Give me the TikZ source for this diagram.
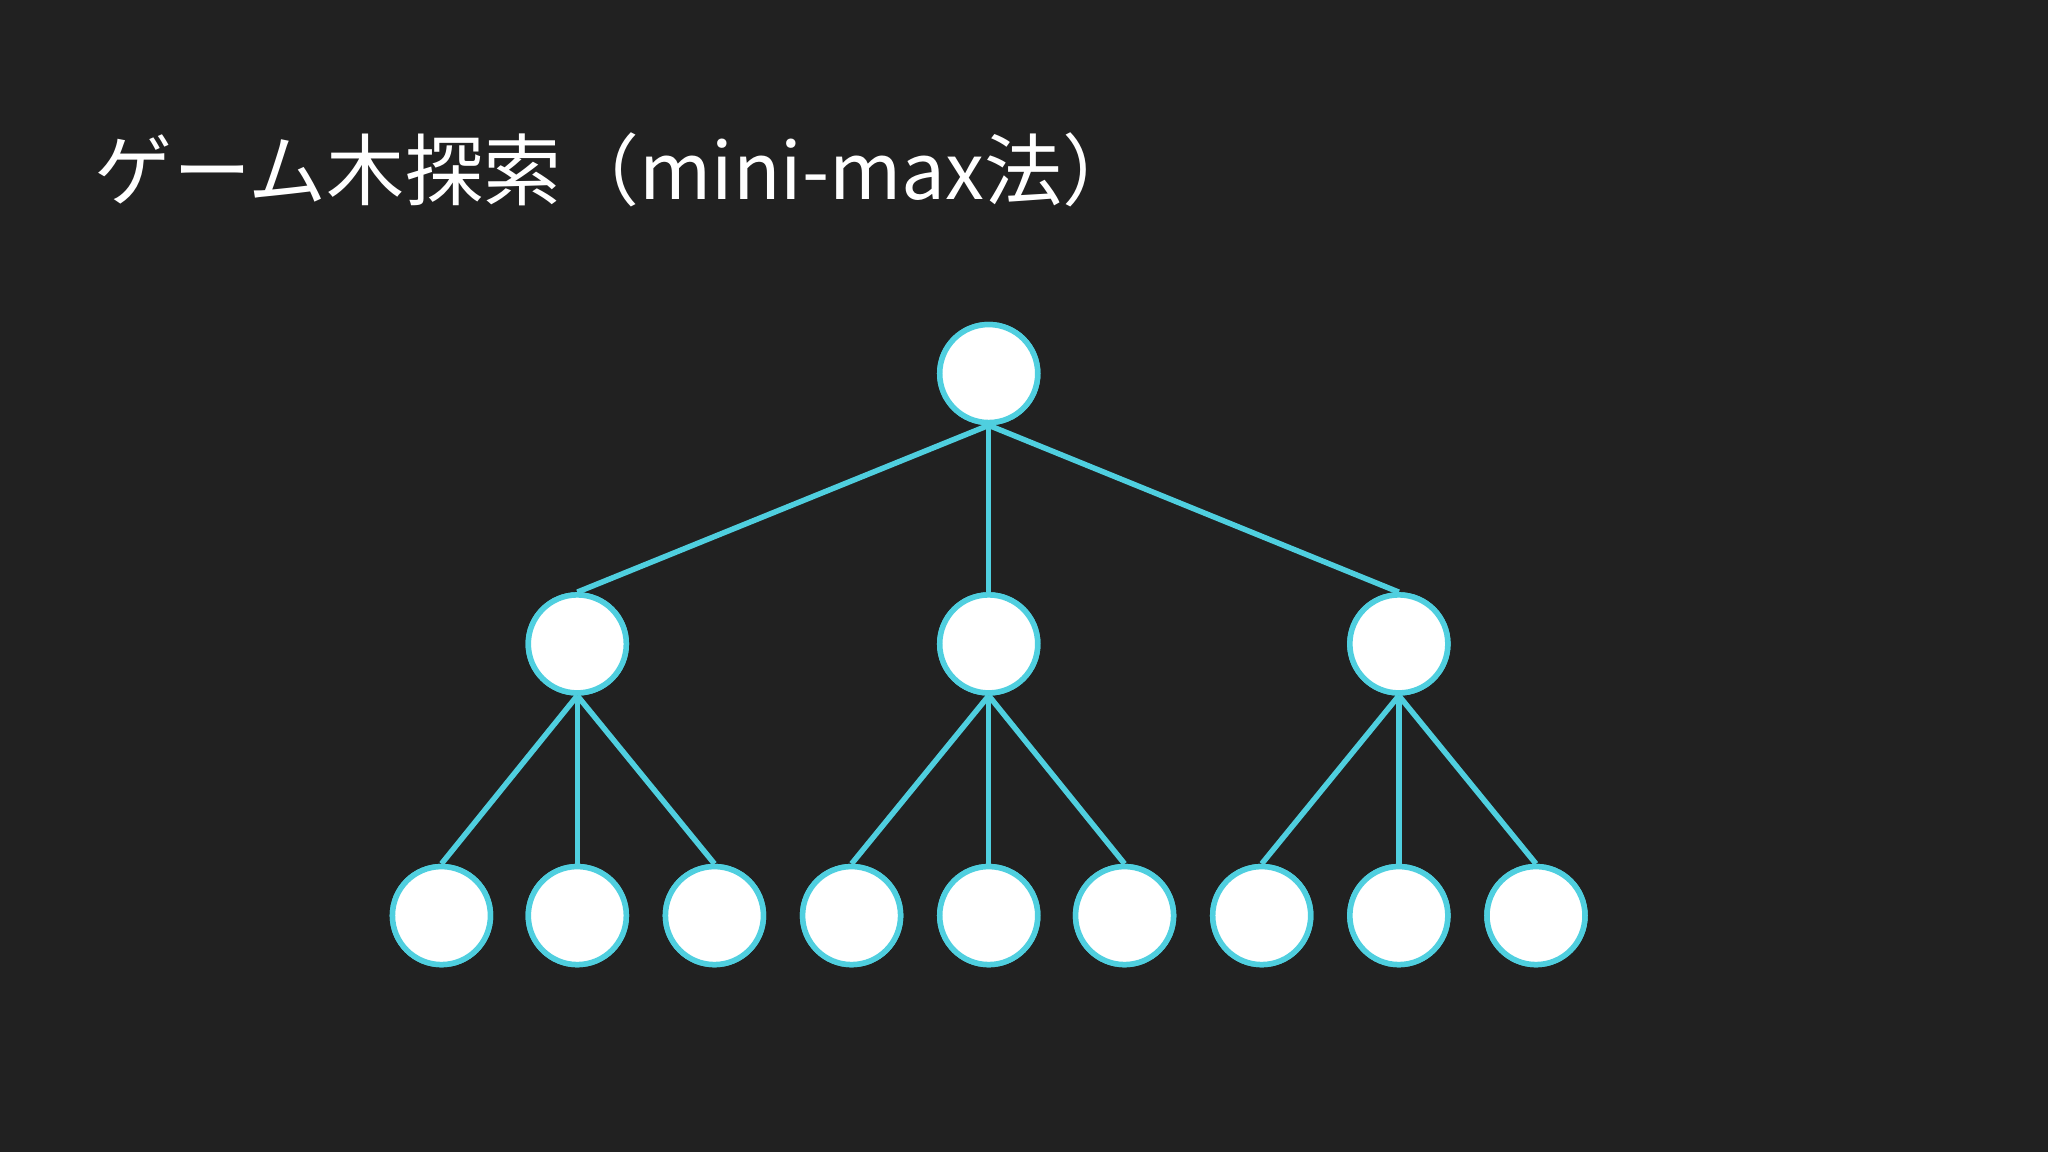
\documentclass[tikz,border=0pt]{standalone}
\usepackage{fontspec}
\newfontfamily\cjk{Noto Sans CJK JP}
\definecolor{bg}{HTML}{212121}
\definecolor{cy}{HTML}{4FCFDF}
\begin{document}
\begin{tikzpicture}[x=0.01cm,y=-0.01cm,
  tn/.style={circle,fill=white,draw=cy,line width=1.2pt,minimum size=0.75cm,inner sep=0pt},
  ed/.style={cy,line width=1.2pt}]
\fill[bg] (0,0) rectangle (1568,882);
\useasboundingbox (0,0) rectangle (1568,882);
\node[anchor=west,text=white,font=\cjk\fontsize{17}{20}\selectfont,inner sep=0pt] (title) at (72,130) {ゲーム木探索（mini-max法）};
\node[tn] (r) at (757,286) {};
\node[tn] (a) at (442,493) {};
\node[tn] (b) at (757,493) {};
\node[tn] (c) at (1071,493) {};
\foreach \i/\x in {1/338,2/442,3/547,4/652,5/757,6/861,7/966,8/1071,9/1176}
  \node[tn] (l\i) at (\x,701) {};
\begin{scope}[on background layer/.style={}]
\end{scope}
\foreach \p/\q in {r/a,r/b,r/c,a/l1,a/l2,a/l3,b/l4,b/l5,b/l6,c/l7,c/l8,c/l9}
  \draw[ed] (\p.south) -- (\q.north);
\foreach \n in {r,a,b,c,l1,l2,l3,l4,l5,l6,l7,l8,l9}
  \node[tn] at (\n) {};
\end{tikzpicture}
\end{document}
